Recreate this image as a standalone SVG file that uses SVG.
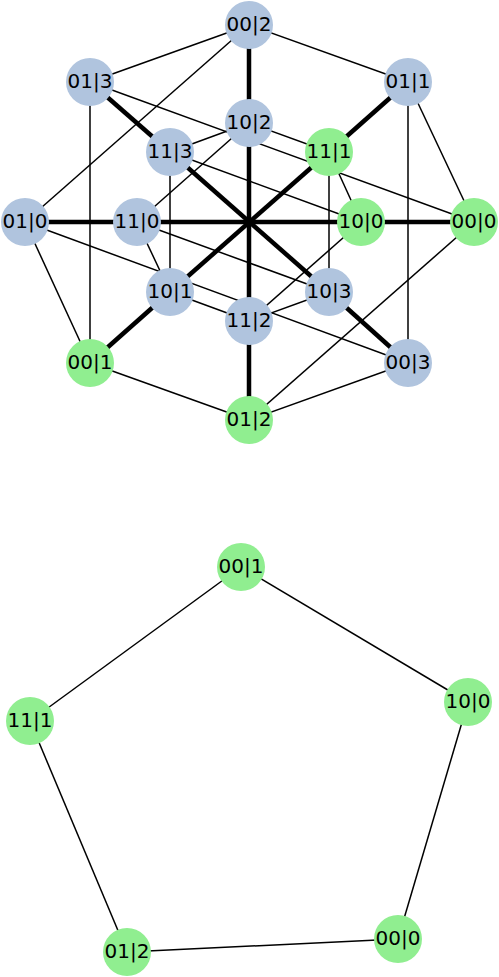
<svg xmlns="http://www.w3.org/2000/svg" width="499" height="977" viewBox="0 0 499 977">
<style>
.e{stroke:#000;stroke-width:1.5;fill:none}
.t{stroke:#000;stroke-width:4.5;fill:none}
.b{fill:#B0C4DE}
.g{fill:#90EE90}
text{font-family:"DejaVu Sans",sans-serif;font-size:20px;text-anchor:middle;fill:#000}
</style>
<rect width="499" height="977" fill="#fff"/>
<g id="connectors">
<line class="e" x1="249" y1="25" x2="90" y2="82"/>
<line class="e" x1="249" y1="25" x2="408" y2="82"/>
<line class="e" x1="249" y1="25" x2="25" y2="222"/>
<line class="e" x1="90" y1="82" x2="474" y2="222"/>
<line class="e" x1="90" y1="82" x2="90" y2="363"/>
<line class="e" x1="408" y1="82" x2="408" y2="363"/>
<line class="e" x1="408" y1="82" x2="474" y2="222"/>
<line class="e" x1="25" y1="222" x2="408" y2="363"/>
<line class="e" x1="25" y1="222" x2="90" y2="363"/>
<line class="e" x1="474" y1="222" x2="249" y2="420"/>
<line class="e" x1="90" y1="363" x2="249" y2="420"/>
<line class="e" x1="408" y1="363" x2="249" y2="420"/>
<line class="e" x1="170" y1="152" x2="249" y2="123"/>
<line class="e" x1="170" y1="152" x2="170" y2="292"/>
<line class="e" x1="170" y1="152" x2="361" y2="222"/>
<line class="e" x1="329" y1="152" x2="249" y2="123"/>
<line class="e" x1="329" y1="152" x2="329" y2="292"/>
<line class="e" x1="329" y1="152" x2="361" y2="222"/>
<line class="e" x1="137" y1="222" x2="249" y2="123"/>
<line class="e" x1="137" y1="222" x2="170" y2="292"/>
<line class="e" x1="137" y1="222" x2="329" y2="292"/>
<line class="e" x1="249" y1="321" x2="170" y2="292"/>
<line class="e" x1="249" y1="321" x2="329" y2="292"/>
<line class="e" x1="249" y1="321" x2="361" y2="222"/>
<line class="t" x1="25" y1="222" x2="137" y2="222"/>
<line class="t" x1="137" y1="222" x2="361" y2="222"/>
<line class="t" x1="361" y1="222" x2="474" y2="222"/>
<line class="t" x1="249" y1="25" x2="249" y2="123"/>
<line class="t" x1="249" y1="123" x2="249" y2="321"/>
<line class="t" x1="249" y1="321" x2="249" y2="420"/>
<line class="t" x1="90" y1="82" x2="170" y2="152"/>
<line class="t" x1="170" y1="152" x2="329" y2="292"/>
<line class="t" x1="329" y1="292" x2="408" y2="363"/>
<line class="t" x1="408" y1="82" x2="329" y2="152"/>
<line class="t" x1="329" y1="152" x2="170" y2="292"/>
<line class="t" x1="170" y1="292" x2="90" y2="363"/>
<line class="e" x1="241" y1="567" x2="468" y2="702"/>
<line class="e" x1="468" y1="702" x2="398" y2="939"/>
<line class="e" x1="398" y1="939" x2="127" y2="952"/>
<line class="e" x1="127" y1="952" x2="30" y2="721"/>
<line class="e" x1="30" y1="721" x2="241" y2="567"/>
</g>
<g id="n_00_2"><circle class="b" cx="249" cy="25" r="24"/><text x="249" y="31">00|2</text></g>
<g id="n_01_3"><circle class="b" cx="90" cy="82" r="24"/><text x="90" y="88">01|3</text></g>
<g id="n_01_1"><circle class="b" cx="408" cy="82" r="24"/><text x="408" y="88">01|1</text></g>
<g id="n_10_2"><circle class="b" cx="249" cy="123" r="24"/><text x="249" y="129">10|2</text></g>
<g id="n_11_3"><circle class="b" cx="170" cy="152" r="24"/><text x="170" y="158">11|3</text></g>
<g id="n_11_1"><circle class="g" cx="329" cy="152" r="24"/><text x="329" y="158">11|1</text></g>
<g id="n_01_0"><circle class="b" cx="25" cy="222" r="24"/><text x="25" y="228">01|0</text></g>
<g id="n_11_0"><circle class="b" cx="137" cy="222" r="24"/><text x="137" y="228">11|0</text></g>
<g id="n_10_0"><circle class="g" cx="361" cy="222" r="24"/><text x="361" y="228">10|0</text></g>
<g id="n_00_0"><circle class="g" cx="474" cy="222" r="24"/><text x="474" y="228">00|0</text></g>
<g id="n_10_1"><circle class="b" cx="170" cy="292" r="24"/><text x="170" y="298">10|1</text></g>
<g id="n_10_3"><circle class="b" cx="329" cy="292" r="24"/><text x="329" y="298">10|3</text></g>
<g id="n_11_2"><circle class="b" cx="249" cy="321" r="24"/><text x="249" y="327">11|2</text></g>
<g id="n_00_1"><circle class="g" cx="90" cy="363" r="24"/><text x="90" y="369">00|1</text></g>
<g id="n_00_3"><circle class="b" cx="408" cy="363" r="24"/><text x="408" y="369">00|3</text></g>
<g id="n_01_2"><circle class="g" cx="249" cy="420" r="24"/><text x="249" y="426">01|2</text></g>
<g id="m_00_1"><circle class="g" cx="241" cy="567" r="24"/><text x="241" y="573">00|1</text></g>
<g id="m_10_0"><circle class="g" cx="468" cy="702" r="24"/><text x="468" y="708">10|0</text></g>
<g id="m_00_0"><circle class="g" cx="398" cy="939" r="24"/><text x="398" y="945">00|0</text></g>
<g id="m_01_2"><circle class="g" cx="127" cy="952" r="24"/><text x="127" y="958">01|2</text></g>
<g id="m_11_1"><circle class="g" cx="30" cy="721" r="24"/><text x="30" y="727">11|1</text></g>
</svg>
